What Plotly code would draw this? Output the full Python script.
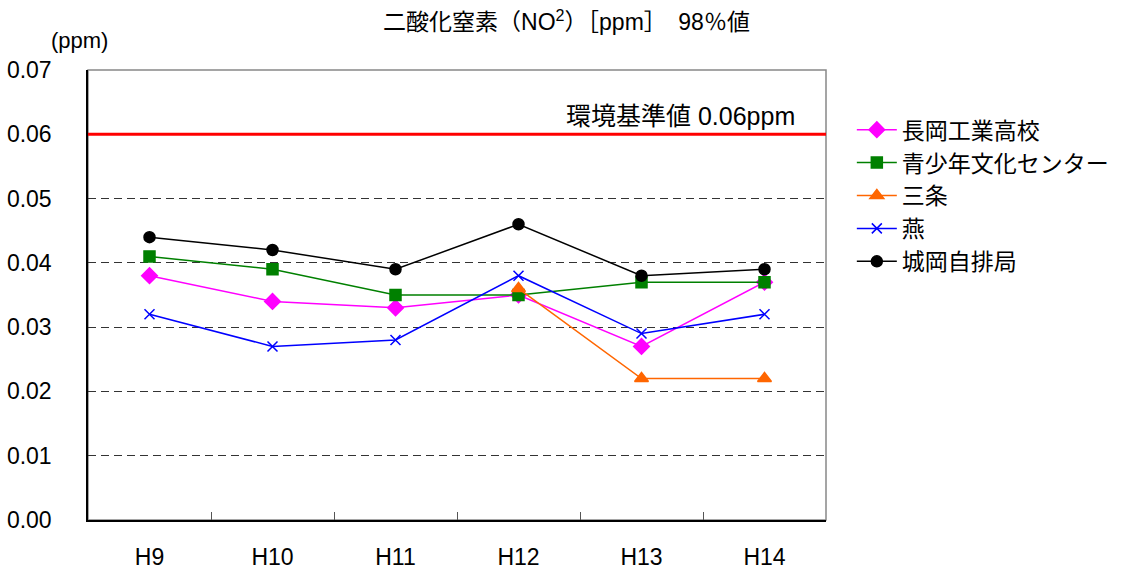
import plotly.graph_objects as go

categories = ["H9", "H10", "H11", "H12", "H13", "H14"]
nagaoka_kogyo = [0.038, 0.034, 0.033, 0.035, 0.027, 0.037]
seishonen = [0.041, 0.039, 0.035, 0.035, 0.037, 0.037]
sanjo = [None, None, None, 0.036, 0.022, 0.022]
tsubame = [0.032, 0.027, 0.028, 0.038, 0.029, 0.032]
shirooka = [0.044, 0.042, 0.039, 0.046, 0.038, 0.039]
standard = 0.06
y_ticks = [0.00, 0.01, 0.02, 0.03, 0.04, 0.05, 0.06, 0.07]

FONT = "Arial, 'Liberation Sans', 'Noto Sans CJK JP', sans-serif"

series = [
    ("長岡工業高校", nagaoka_kogyo, "#FF00FF", "diamond", 12),
    ("青少年文化センター", seishonen, "#008000", "square", 11),
    ("三条", sanjo, "#FF6600", "triangle-up", 12),
    ("燕", tsubame, "#0000FF", "x-thin", 10),
    ("城岡自排局", shirooka, "#000000", "circle", 11),
]

fig = go.Figure()
for name, vals, color, sym, size in series:
    fig.add_trace(go.Scatter(
        x=categories, y=vals, name=name, mode="lines+markers",
        line=dict(color=color, width=1.5),
        marker=dict(symbol=sym, size=size, color=color,
                    line=dict(color=color, width=1.5)),
        connectgaps=False,
    ))

# plot frame (gray top/right)
fig.add_shape(type="rect", xref="paper", yref="paper", x0=0, x1=1, y0=0, y1=1,
              line=dict(color="#888888", width=1.5), layer="below")
# environmental standard line
fig.add_shape(type="line", xref="paper", yref="y", x0=0, x1=1, y0=standard, y1=standard,
              line=dict(color="#FF0000", width=3))

fig.add_annotation(xref="paper", yref="y", x=0.961, y=standard, xanchor="right", yanchor="bottom",
                   text="環境基準値 0.06ppm", showarrow=False, yshift=2,
                   font=dict(size=25, color="#000000", family=FONT))
fig.add_annotation(xref="paper", yref="paper", x=-0.011, y=1.0, xanchor="center", yanchor="middle",
                   text="(ppm)", showarrow=False, yshift=30,
                   font=dict(size=22, family=FONT))

fig.update_layout(
    width=1133, height=571,
    margin=dict(l=88, r=307, t=70, b=51, autoexpand=False),
    paper_bgcolor="white", plot_bgcolor="white",
    font=dict(family=FONT, size=22, color="#000000"),
    title=dict(text="二酸化窒素（NO<sup>2</sup>）［ppm］　98％値", x=0.5, xref="container",
               xanchor="center", y=0.961, yanchor="middle", yref="container",
               automargin=False, font=dict(size=23, family=FONT)),
    showlegend=True,
    legend=dict(x=1.035, xanchor="left", y=0.915, yanchor="top",
                font=dict(size=23, family=FONT), tracegroupgap=0,
                bgcolor="rgba(0,0,0,0)", itemwidth=40),
)

fig.update_xaxes(
    type="category", tickson="boundaries", ticks="inside", ticklen=8,
    tickcolor="#555555", showline=True, linecolor="#000000", linewidth=1.5,
    showgrid=False, ticklabelstandoff=16, tickfont=dict(size=23, family=FONT),
    range=[-0.5, 5.5], automargin=False,
)
fig.update_yaxes(
    range=[0, 0.07], tickvals=y_ticks, ticktext=[f"{v:.2f}" for v in y_ticks],
    showline=True, linecolor="#000000", linewidth=1.5, ticks="",
    showgrid=True, gridcolor="#333333", griddash="8px,5px", gridwidth=1,
    zeroline=False, tickfont=dict(size=23, family=FONT), ticklabelstandoff=30,
    automargin=False,
)

fig.write_html("out.html", config={"displayModeBar": False},
               post_script="document.body.style.margin='0';document.body.style.overflow='hidden';")
